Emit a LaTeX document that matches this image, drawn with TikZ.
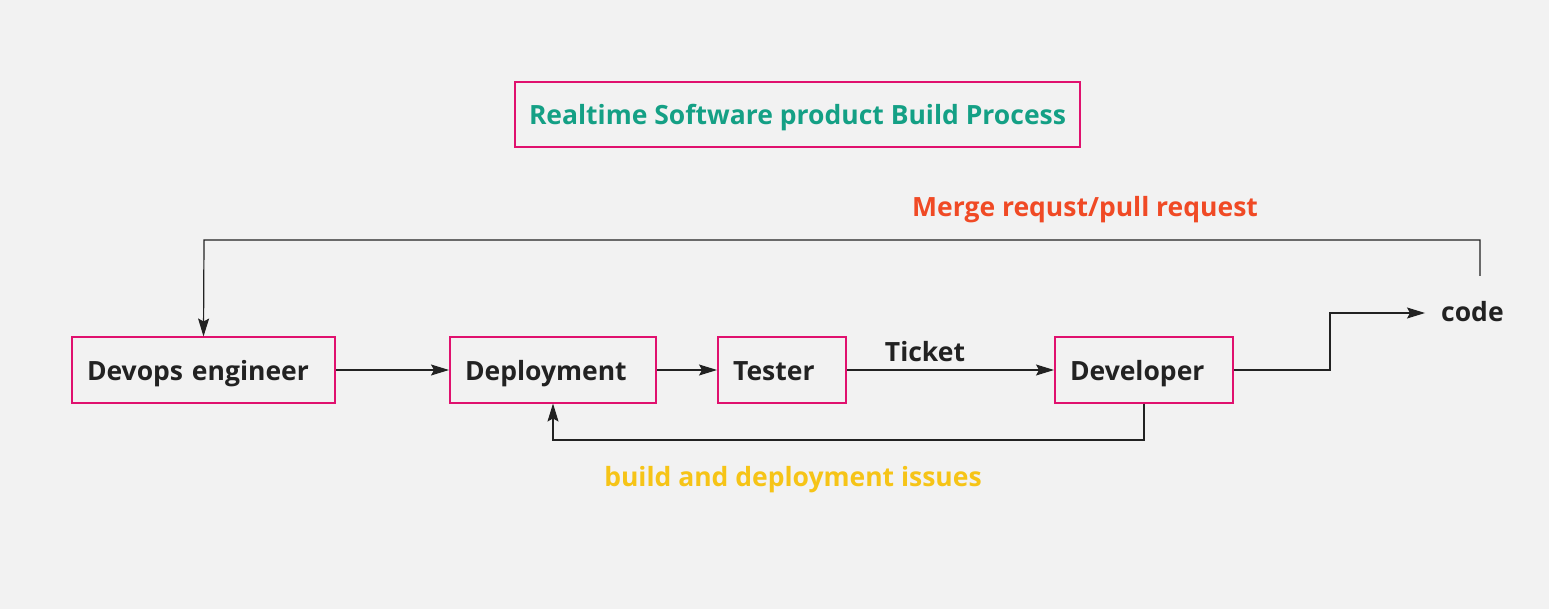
\documentclass[tikz,border=0pt]{standalone}
\usepackage{fontspec}
\setmainfont{Open Sans}
\usetikzlibrary{positioning,arrows.meta}
\definecolor{bgcol}{HTML}{F2F2F2}
\definecolor{boxcol}{HTML}{E0116E}
\definecolor{titlecol}{HTML}{14A085}
\definecolor{mergecol}{HTML}{F04A25}
\definecolor{issuecol}{HTML}{F6C417}
\definecolor{txtcol}{HTML}{222222}
\tikzset{
	role/.style={draw=boxcol, line width=2pt, minimum height=65pt, inner sep=0pt,
		text height=22.5pt, text depth=2.5pt,
		text=txtcol, font=\fontsize{26.5}{30}\selectfont\bfseries},
	lbl/.style={font=\fontsize{26.5}{30}\selectfont\bfseries, inner sep=0pt},
	flow/.style={draw=txtcol, line width=1.2pt, -{Stealth[length=18pt,width=11pt,inset=3pt]}},
	plain/.style={draw=txtcol, line width=1.2pt}
}

\begin{document}
\begin{tikzpicture}[x=1pt,y=-1pt]
	\fill[bgcol] (0,0) rectangle (1549,609);
	\useasboundingbox (0,0) rectangle (1549,609);
	
	\node[role, minimum width=565pt, text=titlecol] (title) at (797.5,115) {Realtime Software product Build Process};
	
	\node[role, minimum width=263pt, text width=233pt, align=left] (devops) at (203.5,370) {Devops engineer};
	\node[role, minimum width=206pt, text width=176pt, align=left] (deploy) at (553,370) {Deployment};
	\node[role, minimum width=128pt, text width=98pt, align=left] (tester) at (782,370) {Tester};
	\node[role, minimum width=178pt, text width=148pt, align=left] (dev) at (1144,370) {Developer};
	\node[lbl, text=txtcol, anchor=west] (code) at (1441,312) {code};
	
	\node[lbl, text=txtcol] (ticket) at (925,352) {Ticket};
	\node[lbl, text=mergecol] (merge) at (1085,210) {Merge requst/pull request};
	\node[lbl, text=issuecol] (issues) at (793,480) {build and deployment issues};
	
	\coordinate (mrstart) at (1480,276);
	
	\draw[flow] (devops) -- (deploy);
	\draw[flow] (deploy) -- (tester);
	\draw[flow] (tester) -- (dev);
	\draw[flow] (dev.east) -- (1330,370) |- ([xshift=-16pt,yshift=-1pt]code.west);
	\draw[flow] (mrstart) |- (204,240) -- (devops.north);
	\draw[flow] (dev.south) -- (1144,440) -| (deploy.south);
\end{tikzpicture}
\end{document}
